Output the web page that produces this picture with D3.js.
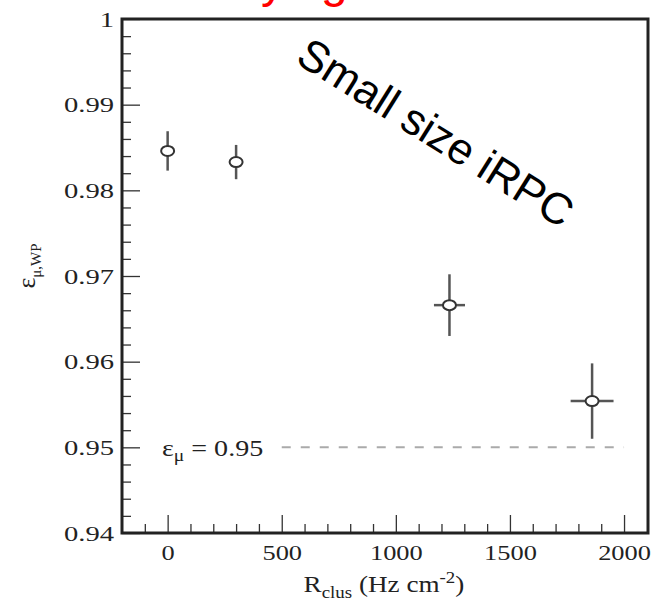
<!DOCTYPE html>
<html>
<head>
<meta charset="utf-8">
<script src="https://cdn.jsdelivr.net/npm/d3@7"></script>
<style>
  html, body { margin: 0; padding: 0; background: #fff; }
  svg { display: block; }
  .serif { font-family: "Liberation Serif", "Times New Roman", serif; fill: #222; }
</style>
</head>
<body>
<svg id="chart" width="655" height="604"></svg>
<script>
// Cluster rate (Hz cm^-2) and muon efficiency at working point
const rates    = [0, 300, 1235, 1860];
const rateErr  = [0, 0, 68, 94];
const effs     = [0.9846, 0.9833, 0.9666, 0.9554];
const effErr   = [0.0023, 0.0020, 0.0036, 0.0044];

const xMajor = [0, 500, 1000, 1500, 2000];
const xMinor = [-100, 100, 200, 300, 400, 600, 700, 800, 900, 1100, 1200, 1300, 1400, 1600, 1700, 1800, 1900];
const yMajor = [0.94, 0.95, 0.96, 0.97, 0.98, 0.99, 1.0];
const yMajorLabels = ["0.94", "0.95", "0.96", "0.97", "0.98", "0.99", "1"];
const yMinor = [0.942, 0.944, 0.946, 0.948, 0.952, 0.954, 0.956, 0.958, 0.962, 0.964, 0.966, 0.968,
                0.972, 0.974, 0.976, 0.978, 0.982, 0.984, 0.986, 0.988, 0.992, 0.994, 0.996, 0.998];

const threshold = 0.95;
const thresholdFrom = 500, thresholdTo = 2000;

const svg = d3.select("#chart");
const frame = { left: 122, right: 648, top: 19, bottom: 533 };
const x = d3.scaleLinear().domain([-200, 2105]).range([frame.left, frame.right]);
const y = d3.scaleLinear().domain([0.94, 1.0]).range([frame.bottom, frame.top]);

function widen(sel, k) {
  sel.each(function () {
    const w = this.getComputedTextLength();
    d3.select(this).attr("textLength", w * k).attr("lengthAdjust", "spacingAndGlyphs");
  });
}

// Slide title above the plot, only its lowest strokes fall inside the page
const slideTitle = svg.append("g").attr("fill", "#ff0000")
  .attr("font-family", "Liberation Sans, Arial, sans-serif").attr("font-size", 48);
slideTitle.append("text").attr("x", 261).attr("y", -3).text("y");
slideTitle.append("text").attr("x", 321).attr("y", -3).text("g");

// Threshold line
svg.append("line")
  .attr("x1", x(thresholdFrom)).attr("x2", x(thresholdTo))
  .attr("y1", y(threshold)).attr("y2", y(threshold))
  .attr("stroke", "#aaa").attr("stroke-width", 2).attr("stroke-dasharray", "9,10");

const thrLabel = svg.append("text").attr("class", "serif")
  .attr("x", 162).attr("y", 456).attr("font-size", 23);
thrLabel.append("tspan").text("ε");
thrLabel.append("tspan").attr("font-size", 16).attr("dy", 5).text("μ");
thrLabel.append("tspan").attr("dy", -5).text(" = 0.95");
widen(thrLabel, 1.22);

// Axes: ticks point inward
const axisStyle = g => {
  g.select(".domain").remove();
  g.selectAll("line").attr("stroke", "#333").attr("stroke-width", 1.3);
  g.selectAll("text").attr("class", "serif").attr("font-size", 22).attr("fill", "#222");
};

svg.append("g").attr("transform", `translate(0,${frame.bottom})`)
  .call(d3.axisBottom(x).tickValues(xMinor).tickSize(-9).tickFormat(""))
  .call(axisStyle);
const gx = svg.append("g").attr("transform", `translate(0,${frame.bottom})`)
  .call(d3.axisBottom(x).tickValues(xMajor).tickSize(-18).tickPadding(11).tickFormat(d3.format("d")))
  .call(axisStyle);
widen(gx.selectAll("text"), 1.2);

svg.append("g").attr("transform", `translate(${frame.left},0)`)
  .call(d3.axisLeft(y).tickValues(yMinor).tickSize(-9).tickFormat(""))
  .call(axisStyle);
const gy = svg.append("g").attr("transform", `translate(${frame.left},0)`)
  .call(d3.axisLeft(y).tickValues(yMajor).tickSize(-18).tickPadding(8)
    .tickFormat((d, i) => yMajorLabels[i]))
  .call(axisStyle);
widen(gy.selectAll("text"), 1.3);

// Frame
svg.append("rect")
  .attr("x", frame.left).attr("y", frame.top)
  .attr("width", frame.right - frame.left).attr("height", frame.bottom - frame.top)
  .attr("fill", "none").attr("stroke", "#222").attr("stroke-width", 3);

// Error bars and markers
const pts = rates.map((r, i) => ({ r, e: effs[i], dr: rateErr[i], de: effErr[i] }));
const gp = svg.append("g");
gp.selectAll("line.v").data(pts).join("line").attr("class", "v")
  .attr("x1", d => x(d.r)).attr("x2", d => x(d.r))
  .attr("y1", d => y(d.e - d.de)).attr("y2", d => y(d.e + d.de))
  .attr("stroke", "#555").attr("stroke-width", 2.5);
gp.selectAll("line.h").data(pts.filter(d => d.dr > 0)).join("line").attr("class", "h")
  .attr("x1", d => x(d.r - d.dr)).attr("x2", d => x(d.r + d.dr))
  .attr("y1", d => y(d.e)).attr("y2", d => y(d.e))
  .attr("stroke", "#555").attr("stroke-width", 2.5);
gp.selectAll("ellipse").data(pts).join("ellipse")
  .attr("cx", d => x(d.r)).attr("cy", d => y(d.e))
  .attr("rx", 6.5).attr("ry", 5)
  .attr("fill", "#fff").attr("stroke", "#333").attr("stroke-width", 2);

// Axis titles
const xt = svg.append("text").attr("class", "serif").attr("font-size", 23)
  .attr("x", 384).attr("y", 592).attr("text-anchor", "middle");
xt.append("tspan").text("R");
xt.append("tspan").attr("font-size", 16).attr("dy", 6).text("clus");
xt.append("tspan").attr("dy", -6).text(" (Hz cm");
xt.append("tspan").attr("font-size", 16).attr("dy", -9).text("-2");
xt.append("tspan").attr("dy", 9).text(")");
widen(xt, 1.18);

const yt = svg.append("text").attr("class", "serif").attr("font-size", 26)
  .attr("text-anchor", "middle")
  .attr("transform", "translate(35,266) rotate(-90)");
yt.append("tspan").text("ε");
yt.append("tspan").attr("font-size", 15).attr("dy", 6).text("μ,WP");

// Overlaid annotation
svg.append("text")
  .attr("font-family", "Liberation Sans, Arial, sans-serif").attr("font-size", 44)
  .attr("fill", "#000")
  .attr("transform", "translate(294,62) rotate(32)")
  .text("Small size iRPC");
</script>
</body>
</html>
